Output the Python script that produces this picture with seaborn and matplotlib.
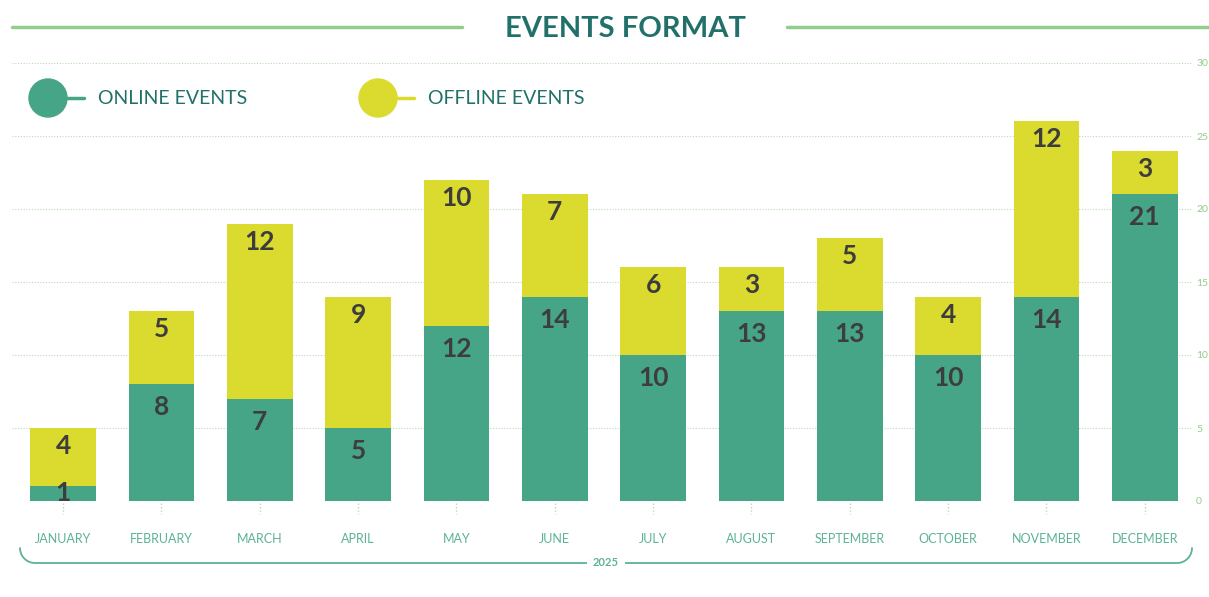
import numpy as np
import pandas as pd
import matplotlib
matplotlib.use("Agg")
import matplotlib.pyplot as plt
from matplotlib.patches import Circle
from matplotlib.transforms import blended_transform_factory
import seaborn as sns

months = ["JANUARY", "FEBRUARY", "MARCH", "APRIL", "MAY", "JUNE", "JULY",
          "AUGUST", "SEPTEMBER", "OCTOBER", "NOVEMBER", "DECEMBER"]
online = [1, 8, 7, 5, 12, 14, 10, 13, 13, 10, 14, 21]
offline = [4, 5, 12, 9, 10, 7, 6, 3, 5, 4, 12, 3]
y_ticks = [0, 5, 10, 15, 20, 25, 30]
year_label = "2025"

GREEN = "#46a586"
YELLOW = "#dbda2e"
DARK = "#22706a"
LIGHT = "#93cc8c"
LABEL = "#3d3d3d"

sns.set_style("white")
plt.rcParams["font.family"] = ["Lato", "DejaVu Sans"]

df = pd.DataFrame({"month": months, "online": online, "offline": offline})
df["total"] = df["online"] + df["offline"]

W, H = 1209, 597
fig = plt.figure(figsize=(W / 100, H / 100), dpi=100)
ax = fig.add_axes([12 / W, (H - 501) / H, (1192 - 12) / W, (501 - 63) / H])

# stacked bars: total in yellow, online drawn over it
sns.barplot(data=df, x="month", y="total", color=YELLOW, width=0.67,
            saturation=1, linewidth=0, ax=ax, zorder=3)
sns.barplot(data=df, x="month", y="online", color=GREEN, width=0.67,
            saturation=1, linewidth=0, ax=ax, zorder=4)

ax.set_xlim(-0.52, 11.48)
ax.set_ylim(0, 30)
ax.set_xlabel("")
ax.set_ylabel("")
for s in ax.spines.values():
    s.set_visible(False)

ax.yaxis.tick_right()
ax.set_yticks(y_ticks)
ax.tick_params(axis="y", length=0, pad=3, labelsize=7.5, labelcolor=LIGHT)
ax.yaxis.grid(True, linestyle=(0, (1, 1.5)), color="#b9dcb4", linewidth=0.8)
ax.set_axisbelow(True)

ax.set_xticks(range(len(months)))
ax.set_xticklabels(months)
ax.tick_params(axis="x", length=0, pad=23, labelsize=9, labelcolor="#5cb394")

# dotted tick marks under each month
tr = blended_transform_factory(ax.transData, ax.transAxes)
for i in range(len(months)):
    ax.plot([i, i], [-0.005, -0.03], transform=tr, clip_on=False,
            linestyle=(0, (1, 1.5)), color="#b9dcb4", linewidth=1)

# value labels
px_per_unit = (501 - 63) / 30
for i in range(len(months)):
    seg_px = online[i] * px_per_unit
    off = -min(23, seg_px - 8)
    ax.annotate(str(online[i]), xy=(i, online[i]), xytext=(0, off),
                textcoords="offset pixels", ha="center", va="center",
                fontsize=19, fontweight="bold", color=LABEL, zorder=6)
    ax.annotate(str(offline[i]), xy=(i, online[i] + offline[i]), xytext=(0, -18),
                textcoords="offset pixels", ha="center", va="center",
                fontsize=19, fontweight="bold", color=LABEL, zorder=6)

# overlay in pixel coordinates for title, legend and bracket
ov = fig.add_axes([0, 0, 1, 1], zorder=10)
ov.set_xlim(0, W)
ov.set_ylim(H, 0)
ov.axis("off")
ov.patch.set_alpha(0)

ov.text(625, 29, "EVENTS FORMAT", ha="center", va="center", fontsize=21,
        fontweight="bold", color=DARK)
ov.plot([12, 462], [27, 27], color=LIGHT, linewidth=2.5)
ov.plot([787, 1209], [27, 27], color=LIGHT, linewidth=2.5)

for cx, col, name in [(48, GREEN, "ONLINE EVENTS"), (378, YELLOW, "OFFLINE EVENTS")]:
    ov.plot([cx, cx + 36], [98, 98], color=col, linewidth=2.5)
    ov.add_patch(Circle((cx, 98), 19, color=col, zorder=11))
    ov.text(cx + 50, 99, name, ha="left", va="center", fontsize=14, color=DARK)

# year bracket
t = np.linspace(0, np.pi / 2, 20)
r = 15
left_arc_x = 20 + r * (1 - np.cos(t))
left_arc_y = 548 + r * np.sin(t)
right_arc_x = 1192 - r * (1 - np.cos(t))
right_arc_y = 548 + r * np.sin(t)
bx = np.concatenate([left_arc_x, right_arc_x[::-1]])
by = np.concatenate([left_arc_y, right_arc_y[::-1]])
ov.plot(bx, by, color="#5cb394", linewidth=1.3)
ov.text(606, 563, year_label, ha="center", va="center", fontsize=8,
        color="#5cb394", fontweight="bold",
        bbox=dict(boxstyle="square,pad=0.5", fc="white", ec="none"))

fig.savefig("out.png", dpi=100)
